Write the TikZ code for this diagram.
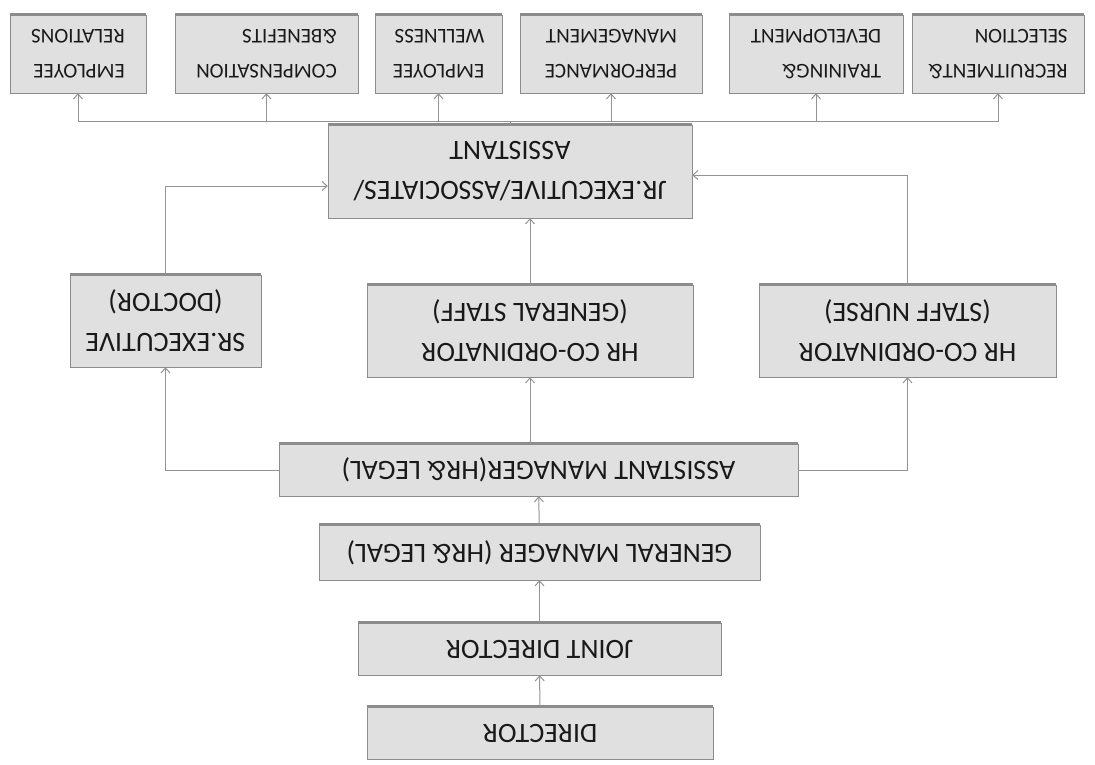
\documentclass[tikz,border=0pt]{standalone}
\usepackage{fontspec}
\setmainfont{Carlito}
\usetikzlibrary{arrows.meta,shadows,calc}
\begin{document}
\begin{tikzpicture}[x=1pt,y=-1pt,
    post/.style={draw=black!45, fill=black!12, rotate=180, inner sep=0pt, text=black!90,
      drop shadow={shadow xshift=0pt, shadow yshift=2.5pt, fill=black!45, opacity=1}},
    big/.style={post, font=\fontsize{28}{40}\selectfont, align=center},
    small/.style={post, font=\fontsize{21}{35}\selectfont, align=left},
    link/.style={draw=black!42, line width=1pt, -{Straight Barb[length=5pt,width=9pt]}}]
  \useasboundingbox (0,0) rectangle (1095,764);
  \fill[white] (0,0) rectangle (1095,764);
  % top row
  \node[small, minimum width=136, minimum height=78] (er) at (78,54) {EMPLOYEE\\RELATIONS};
  \node[small, minimum width=183, minimum height=78] (comp) at (266.5,54) {COMPENSATION\\\&BENEFITS};
  \node[small, minimum width=127, minimum height=78] (well) at (438.5,54) {EMPLOYEE\\WELLNESS};
  \node[small, minimum width=182, minimum height=78] (perf) at (611,54) {PERFORMANCE\\MANAGEMENT};
  \node[small, minimum width=174, minimum height=78] (train) at (816,54) {TRAINING\&\\DEVELOPMENT};
  \node[small, minimum width=172, minimum height=78] (recr) at (998,54) {RECRUITMENT\&\\SELECTION};
  \coordinate (bus) at (0,121);
  % middle
  \node[big, minimum width=364, minimum height=93] (jr) at (510,171.5) {JR.EXECUTIVE/ASSOCIATES/\\ASSISTANT};
  \node[big, minimum width=191, minimum height=92] (sr) at (165.5,321) {SR.EXECUTIVE\\(DOCTOR)};
  \node[big, minimum width=326, minimum height=92] (hrgen) at (530,331) {HR CO-ORDINATOR\\(GENERAL STAFF)};
  \node[big, minimum width=297, minimum height=92] (nurse) at (907.5,331) {HR CO-ORDINATOR\\(STAFF NURSE)};
  % bottom column
  \node[big, minimum width=519, minimum height=52] (am) at (538.5,470) {ASSISTANT MANAGER(HR\& LEGAL)};
  \node[big, minimum width=441, minimum height=55] (gm) at (539.5,552.5) {GENERAL MANAGER (HR\& LEGAL)};
  \node[big, minimum width=363, minimum height=52] (jd) at (539.5,649) {JOINT DIRECTOR};
  \node[big, minimum width=346, minimum height=52] (dir) at (540,733) {DIRECTOR};
  % connectors
  \draw[link] (dir) -- (jd);
  \draw[link] (jd) -- (gm);
  \draw[link] (gm) -- (am);
  \draw[link] (am.south -| hrgen) -- (hrgen);
  \draw[link] (am.east) -| (sr);
  \draw[link] (am.west) -| (nurse);
  \draw[link] (sr) |- ($(jr.east)+(0,14.5)$);
  \draw[link] (nurse) |- ($(jr.west)+(0,3.5)$);
  \draw[link] (hrgen) -- (hrgen |- jr.north);
  \foreach \b in {er,comp,well,perf,train,recr}
    \draw[link] (jr) -- (jr |- bus) -| (\b);
\end{tikzpicture}
\end{document}
